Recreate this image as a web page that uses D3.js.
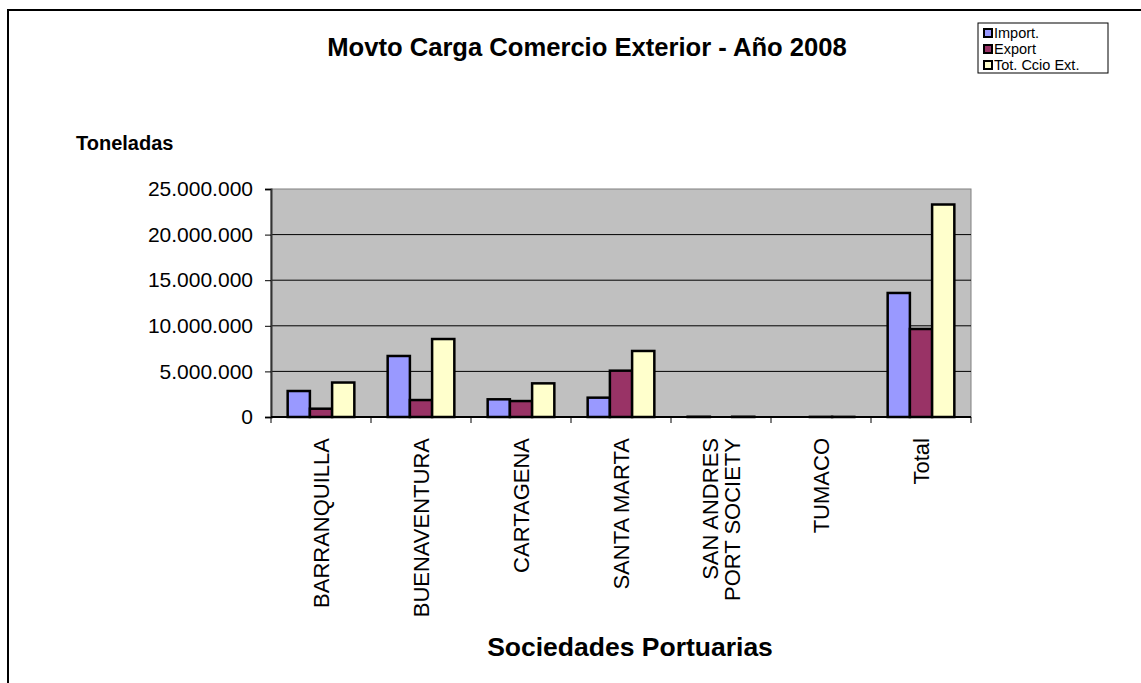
<!DOCTYPE html>
<html lang="es">
<head>
<meta charset="UTF-8">
<title>Movto Carga Comercio Exterior - Año 2008</title>
<script src="https://d3js.org/d3.v7.min.js"></script>
<style>
    body { margin: 0; background: #fff; font-family: Arial, 'Liberation Sans', sans-serif; }
    svg { display: block; }
</style>
</head>
<body>
<div id="chart"></div>
<script>
    const categories = ["BARRANQUILLA", "BUENAVENTURA", "CARTAGENA", "SANTA MARTA", "SAN ANDRES\nPORT SOCIETY", "TUMACO", "Total"];
    const seriesNames = ["Import.", "Export", "Tot. Ccio Ext."];
    const importVals = [2850000, 6690000, 1940000, 2120000, 30000, 0, 13600000];
    const exportVals = [910000, 1860000, 1750000, 5080000, 0, 15000, 9650000];
    const totalVals = [3780000, 8550000, 3690000, 7240000, 30000, 15000, 23300000];
    const yTicks = [0, 5000000, 10000000, 15000000, 20000000, 25000000];
    const colors = ["#9999ff", "#993366", "#ffffcc"];

    const W = 1141, H = 683;
    const plot = { left: 271, right: 971, top: 189, bottom: 417 };

    const svg = d3.select("#chart").append("svg")
        .attr("width", W)
        .attr("height", H);

    // outer chart frame (runs off the right and bottom edges)
    svg.append("rect")
        .attr("x", 8).attr("y", 10)
        .attr("width", W + 20).attr("height", H + 20)
        .attr("fill", "#fff")
        .attr("stroke", "#000")
        .attr("stroke-width", 2);

    const x0 = d3.scaleBand()
        .domain(categories)
        .range([plot.left, plot.right]);

    // gap width 150% like the spreadsheet default
    const barW = x0.bandwidth() / 4.5;
    const x1 = d3.scaleBand()
        .domain(seriesNames)
        .range([x0.bandwidth() * 0.75 / 4.5, x0.bandwidth() * 0.75 / 4.5 + 3 * barW]);

    const y = d3.scaleLinear()
        .domain([0, 25000000])
        .range([plot.bottom, plot.top]);

    // plot background
    svg.append("rect")
        .attr("x", plot.left).attr("y", plot.top)
        .attr("width", plot.right - plot.left)
        .attr("height", plot.bottom - plot.top)
        .attr("fill", "#c0c0c0")
        .attr("stroke", "#808080")
        .attr("stroke-width", 1);

    // gridlines
    svg.append("g")
        .selectAll("line")
        .data(yTicks.slice(1, -1))
        .join("line")
        .attr("x1", plot.left).attr("x2", plot.right)
        .attr("y1", d => y(d)).attr("y2", d => y(d))
        .attr("stroke", "#000")
        .attr("stroke-width", 1);

    const fmt = v => v === 0 ? "0" : d3.format(",")(v).replace(/,/g, ".");

    const yAxis = svg.append("g")
        .attr("transform", `translate(${plot.left},0)`)
        .call(d3.axisLeft(y).tickValues(yTicks).tickSize(6).tickPadding(12).tickFormat(fmt));
    yAxis.select(".domain").attr("stroke", "#333").attr("stroke-width", 2);
    yAxis.selectAll(".tick line").attr("stroke", "#000");
    yAxis.selectAll("text")
        .attr("fill", "#000")
        .style("font-size", "21px")
        .style("font-family", "Arial, 'Liberation Sans', sans-serif");

    // x axis line + category ticks at band edges
    svg.append("line")
        .attr("x1", plot.left).attr("x2", plot.right)
        .attr("y1", plot.bottom).attr("y2", plot.bottom)
        .attr("stroke", "#000").attr("stroke-width", 2);
    const edges = categories.map(c => x0(c)).concat([plot.right]);
    svg.append("g")
        .selectAll("line")
        .data(edges)
        .join("line")
        .attr("x1", d => d).attr("x2", d => d)
        .attr("y1", plot.bottom).attr("y2", plot.bottom + 6)
        .attr("stroke", "#000");

    // bars
    const rows = categories.map((c, i) => ({
        cat: c,
        vals: [importVals[i], exportVals[i], totalVals[i]]
    }));
    svg.append("g")
        .selectAll("g")
        .data(rows)
        .join("g")
        .attr("transform", d => `translate(${x0(d.cat)},0)`)
        .selectAll("rect")
        .data(d => d.vals.map((v, j) => ({ name: seriesNames[j], value: v, j: j })))
        .join("rect")
        .attr("x", d => x1(d.name))
        .attr("y", d => y(d.value))
        .attr("width", x1.bandwidth())
        .attr("height", d => y(0) - y(d.value))
        .attr("fill", d => colors[d.j])
        .attr("stroke", "#000")
        .attr("stroke-width", 2.5);

    // category labels (rotated)
    const labels = svg.append("g")
        .selectAll("text")
        .data(categories)
        .join("text")
        .attr("transform", d => `translate(${x0(d) + x0.bandwidth() / 2},438) rotate(-90)`)
        .attr("text-anchor", "end")
        .style("font-size", "22px")
        .attr("fill", "#000");
    labels.each(function (d) {
        const lines = d.split("\n");
        const t = d3.select(this);
        lines.forEach((ln, k) => {
            t.append("tspan")
                .attr("x", 0)
                .attr("y", (k - (lines.length - 1) / 2) * 22 + 8)
                .text(ln);
        });
    });

    // titles
    svg.append("text")
        .attr("x", 587).attr("y", 56)
        .attr("text-anchor", "middle")
        .style("font-size", "25.6px").style("font-weight", "bold")
        .text("Movto Carga Comercio Exterior - Año 2008");

    svg.append("text")
        .attr("x", 76).attr("y", 150)
        .style("font-size", "20px").style("font-weight", "bold")
        .text("Toneladas");

    svg.append("text")
        .attr("x", 630).attr("y", 656)
        .attr("text-anchor", "middle")
        .style("font-size", "26.5px").style("font-weight", "bold")
        .text("Sociedades Portuarias");

    // legend
    const lg = svg.append("g").attr("transform", "translate(978,23)");
    lg.append("rect")
        .attr("width", 130).attr("height", 50)
        .attr("fill", "#fff")
        .attr("stroke", "#000").attr("stroke-width", 1);
    const item = lg.selectAll(".item")
        .data(seriesNames)
        .join("g")
        .attr("class", "item")
        .attr("transform", (d, i) => `translate(6,${10 + i * 16})`);
    item.append("rect")
        .attr("x", 0).attr("y", -4)
        .attr("width", 8).attr("height", 8)
        .attr("fill", (d, i) => colors[i])
        .attr("stroke", "#000").attr("stroke-width", 2);
    item.append("text")
        .attr("x", 10).attr("y", 5)
        .style("font-size", "14.5px")
        .text(d => d);
</script>
</body>
</html>
